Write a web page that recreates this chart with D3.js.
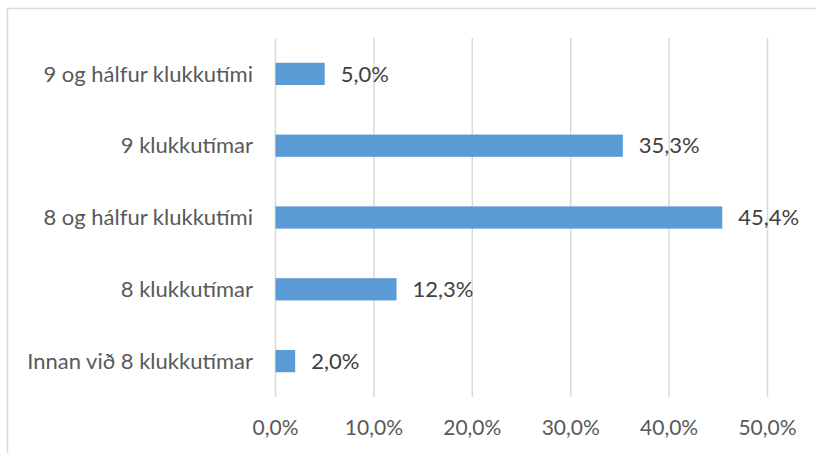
<!DOCTYPE html>
<html>
<head>
<meta charset="utf-8">
<script src="https://cdn.jsdelivr.net/npm/d3@7"></script>
<style>
  body { margin: 0; background: #fff; }
  text { font-family: Lato, "Noto Sans", sans-serif; }
</style>
</head>
<body>
<div id="chart"></div>
<script>
// Data
const categories = [
  "9 og hálfur klukkutími",
  "9 klukkutímar",
  "8 og hálfur klukkutími",
  "8 klukkutímar",
  "Innan við 8 klukkutímar"
];
const values = [5.0, 35.3, 45.4, 12.3, 2.0];
const ticks = [0, 10, 20, 30, 40, 50];

const width = 816;
const height = 453;

const svg = d3
  .select("#chart")
  .append("svg")
  .attr("width", width)
  .attr("height", height);

// chart border
svg.append("rect")
  .attr("x", 7.5)
  .attr("y", 8.5)
  .attr("width", 830)
  .attr("height", 460)
  .attr("fill", "none")
  .attr("stroke", "#d9d9d9")
  .attr("stroke-width", 1.5);

const x = d3.scaleLinear().domain([0, 50]).range([275.5, 767.5]);
const y = d3.scaleBand().domain(categories).range([38, 397]).paddingInner(0.69).paddingOuter(0.345);

const fmt = (d) => d.toFixed(1).replace(".", ",") + "%";

// Gridlines
svg.append("g")
  .selectAll("line")
  .data(ticks)
  .enter()
  .append("line")
  .attr("x1", (d) => x(d))
  .attr("x2", (d) => x(d))
  .attr("y1", 38)
  .attr("y2", 397)
  .attr("stroke", "#d9d9d9")
  .attr("stroke-width", 1.5);

// Bars
svg.append("g")
  .selectAll("rect")
  .data(values)
  .enter()
  .append("rect")
  .attr("x", x(0))
  .attr("y", (d, i) => y(categories[i]))
  .attr("width", (d) => x(d) - x(0))
  .attr("height", y.bandwidth())
  .attr("fill", "#5b9bd5");

// Data labels
svg.append("g")
  .selectAll("text")
  .data(values)
  .enter()
  .append("text")
  .attr("x", (d) => x(d) + 16)
  .attr("y", (d, i) => y(categories[i]) + y.bandwidth() / 2)
  .attr("dy", "0.35em")
  .style("font-size", "22px")
  .style("fill", "#404040")
  .text(fmt);

// Category labels
svg.append("g")
  .selectAll("text")
  .data(categories)
  .enter()
  .append("text")
  .attr("x", 253)
  .attr("y", (d) => y(d) + y.bandwidth() / 2)
  .attr("dy", "0.35em")
  .attr("text-anchor", "end")
  .style("font-size", "22px")
  .style("fill", "#595959")
  .text((d) => d);

// X axis labels
svg.append("g")
  .selectAll("text")
  .data(ticks)
  .enter()
  .append("text")
  .attr("x", (d) => x(d))
  .attr("y", 428)
  .attr("dy", "0.35em")
  .attr("text-anchor", "middle")
  .style("font-size", "21px")
  .style("fill", "#595959")
  .text(fmt);
</script>
</body>
</html>
